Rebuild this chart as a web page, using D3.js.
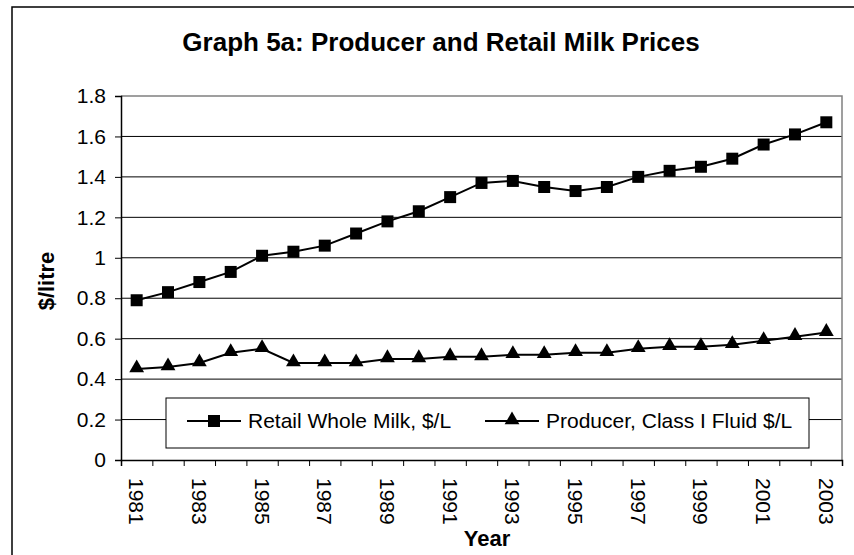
<!DOCTYPE html>
<html>
<head>
<meta charset="utf-8">
<script src="https://cdn.jsdelivr.net/npm/d3@7"></script>
<style>
  body { margin: 0; background: #fff; }
  text { font-family: "Liberation Sans", Arial, sans-serif; fill: #000; }
</style>
</head>
<body>
<svg id="chart" width="854" height="555"></svg>
<script>
var years = ["1981","1982","1983","1984","1985","1986","1987","1988","1989","1990","1991","1992",
  "1993","1994","1995","1996","1997","1998","1999","2000","2001","2002","2003"];
var retail = [0.79,0.83,0.88,0.93,1.01,1.03,1.06,1.12,1.18,1.23,1.30,1.37,
  1.38,1.35,1.33,1.35,1.40,1.43,1.45,1.49,1.56,1.61,1.67];
var producer = [0.45,0.46,0.48,0.53,0.55,0.48,0.48,0.48,0.50,0.50,0.51,0.51,
  0.52,0.52,0.53,0.53,0.55,0.56,0.56,0.57,0.59,0.61,0.63];
var yTicks = [0,0.2,0.4,0.6,0.8,1,1.2,1.4,1.6,1.8];
var seriesNames = ["Retail Whole Milk, $/L", "Producer, Class I Fluid $/L"];

var svg = d3.select("#chart");
var pLeft = 121, pRight = 842, pTop = 96, pBottom = 460;

// outer chart frame (runs off the picture on the right and bottom)
svg.append("rect").attr("x", 12).attr("y", 7).attr("width", 900).attr("height", 600)
  .attr("fill", "none").attr("stroke", "#000").attr("stroke-width", 1.5);

var x = d3.scaleBand().domain(years).range([pLeft, pRight]).padding(0);
var xEdge = d3.scaleLinear().domain([0, years.length]).range([pLeft, pRight]);
var y = d3.scaleLinear().domain([0, 1.8]).range([pBottom, pTop]);

// gridlines
svg.append("g").selectAll("line").data(yTicks.filter(function(d) { return d > 0 && d < 1.8; }))
  .enter().append("line")
  .attr("x1", pLeft).attr("x2", pRight)
  .attr("y1", function(d) { return y(d); }).attr("y2", function(d) { return y(d); })
  .attr("stroke", "#000").attr("stroke-width", 1);

// plot border top / right
svg.append("path")
  .attr("d", "M" + pLeft + "," + y(1.8) + "H" + pRight + "V" + pBottom)
  .attr("fill", "none").attr("stroke", "#808080").attr("stroke-width", 1.5);

// y axis
var yAxis = svg.append("g").attr("transform", "translate(" + pLeft + ",0)")
  .call(d3.axisLeft(y).tickValues(yTicks).tickSize(6).tickPadding(9)
    .tickFormat(function(d) { return String(+d.toFixed(1)); }));
yAxis.select(".domain").attr("stroke", "#000").attr("stroke-width", 1.5);
yAxis.selectAll("text").style("font-size", "21px");

// x axis (ticks at category edges)
var xAxis = svg.append("g").attr("transform", "translate(0," + pBottom + ")")
  .call(d3.axisBottom(xEdge).tickValues(d3.range(0, years.length + 1)).tickSize(6).tickFormat(""));
xAxis.select(".domain").attr("stroke", "#000").attr("stroke-width", 1.5);

svg.append("g").selectAll("text").data(years.filter(function(d, i) { return i % 2 === 0; }))
  .enter().append("text")
  .attr("transform", function(d) { return "translate(" + (x(d) + x.bandwidth() / 2) + ",478) rotate(90)"; })
  .attr("dy", "0.36em")
  .style("font-size", "21px")
  .text(function(d) { return d; });

// lines
var line = function(vals) {
  return d3.line()
    .x(function(d, i) { return x(years[i]) + x.bandwidth() / 2; })
    .y(function(d) { return y(d); })(vals);
};
svg.append("path").attr("d", line(retail)).attr("fill", "none").attr("stroke", "#000").attr("stroke-width", 2);
svg.append("path").attr("d", line(producer)).attr("fill", "none").attr("stroke", "#000").attr("stroke-width", 2);

var square = d3.symbol().type(d3.symbolSquare).size(144);
var tri = d3.symbol().type(d3.symbolTriangle).size(95);

svg.append("g").selectAll("path").data(retail).enter().append("path")
  .attr("d", square)
  .attr("transform", function(d, i) { return "translate(" + (x(years[i]) + x.bandwidth() / 2) + "," + y(d) + ")"; })
  .attr("fill", "#000");
svg.append("g").selectAll("path").data(producer).enter().append("path")
  .attr("d", tri)
  .attr("transform", function(d, i) { return "translate(" + (x(years[i]) + x.bandwidth() / 2) + "," + (y(d) - 1) + ")"; })
  .attr("fill", "#000");

// legend
svg.append("rect").attr("x", 166).attr("y", 398).attr("width", 643).attr("height", 50)
  .attr("fill", "#fff").attr("stroke", "#000").attr("stroke-width", 1);
var legendItems = [
  { name: seriesNames[0], x: 187, sym: square },
  { name: seriesNames[1], x: 485, sym: tri }
];
legendItems.forEach(function(it) {
  svg.append("line").attr("x1", it.x).attr("x2", it.x + 54).attr("y1", 421).attr("y2", 421)
    .attr("stroke", "#000").attr("stroke-width", 2);
  svg.append("path").attr("d", it.sym).attr("fill", "#000")
    .attr("transform", "translate(" + (it.x + 27) + "," + (it.sym === tri ? 420 : 421) + ")");
  svg.append("text").attr("x", it.x + 61).attr("y", 428).style("font-size", "21px").text(it.name);
});

// titles
svg.append("text").attr("x", 441).attr("y", 51).attr("text-anchor", "middle")
  .style("font-size", "26px").style("font-weight", "bold")
  .text("Graph 5a: Producer and Retail Milk Prices");
svg.append("text").attr("transform", "translate(54,281) rotate(-90)").attr("text-anchor", "middle")
  .style("font-size", "22px").style("font-weight", "bold").text("$/litre");
svg.append("text").attr("x", 487).attr("y", 546).attr("text-anchor", "middle")
  .style("font-size", "22px").style("font-weight", "bold").text("Year");
</script>
</body>
</html>
